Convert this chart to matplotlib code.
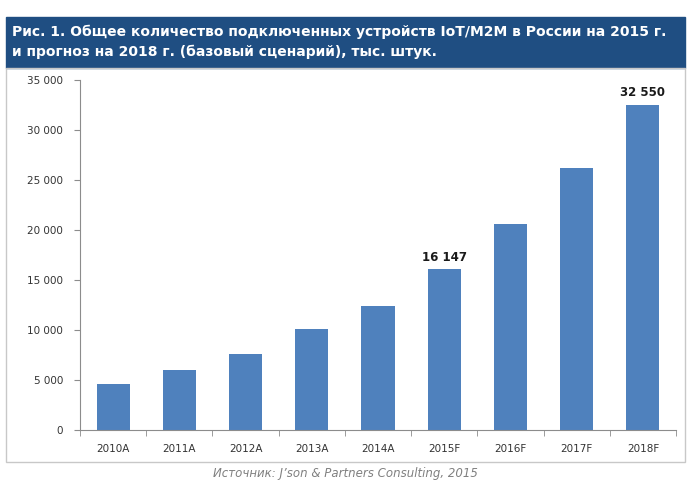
import matplotlib.pyplot as plt
from matplotlib.patches import Rectangle
from matplotlib.ticker import FuncFormatter

years = ['2010A', '2011A', '2012A', '2013A', '2014A', '2015F', '2016F', '2017F', '2018F']
devices = [4600, 6000, 7600, 10100, 12400, 16147, 20600, 26200, 32550]
labelled = ['2015F', '2018F']

title = ('Рис. 1. Общее количество подключенных устройств IoT/M2M в России на 2015 г.\n'
         'и прогноз на 2018 г. (базовый сценарий), тыс. штук.')
source = 'Источник: J’son & Partners Consulting, 2015'

bar_color = '#4f81bd'
axis_color = '#8c8c8c'

fig = plt.figure(figsize=(6.91, 4.91), dpi=100)
W, H = 691, 491

# title band and chart frame
fig.patches.append(Rectangle((6 / W, (H - 68) / H), 679 / W, 51 / H,
                             transform=fig.transFigure, color='#1f4e82', zorder=0))
fig.patches.append(Rectangle((6 / W, (H - 462) / H), 679 / W, 394 / H,
                             transform=fig.transFigure, fill=False,
                             edgecolor='#c8c8c8', lw=1, zorder=0))
fig.text(12 / W, (H - 42) / H, title, color='white', fontsize=10,
         fontweight='bold', va='center', ha='left', linespacing=1.45)

ax = fig.add_axes([80 / W, (H - 430) / H, 596 / W, 350 / H])
x = range(len(years))
bars = ax.bar(x, devices, width=0.5, color=bar_color, zorder=2)

for i, (yr, v) in enumerate(zip(years, devices)):
    if yr in labelled:
        ax.text(i, v + 500, f'{v:,}'.replace(',', ' '), ha='center', va='bottom',
                fontsize=8.5, fontweight='bold', color='#1a1a1a')

ax.set_xlim(-0.5, len(years) - 0.5)
ax.set_ylim(0, 35000)
ax.set_yticks(range(0, 35001, 5000))
ax.yaxis.set_major_formatter(FuncFormatter(lambda v, p: f'{int(v):,}'.replace(',', ' ')))
ax.set_xticks(list(x))
ax.set_xticklabels(years)
ax.set_xticks([i - 0.5 for i in range(len(years) + 1)], minor=True)

for s in ['top', 'right']:
    ax.spines[s].set_visible(False)
for s in ['left', 'bottom']:
    ax.spines[s].set_color(axis_color)
    ax.spines[s].set_linewidth(0.8)

ax.tick_params(axis='y', colors=axis_color, labelcolor='#333333', labelsize=7.5,
               length=4, direction='out', pad=8)
ax.tick_params(axis='x', which='major', length=0, labelcolor='#333333',
               labelsize=7.5, pad=10)
ax.tick_params(axis='x', which='minor', length=4, color=axis_color, direction='out')

fig.text(345 / W, (H - 473) / H, source, color='#808080', fontsize=8.5,
         style='italic', ha='center', va='center')

fig.savefig('out.png', dpi=100)
